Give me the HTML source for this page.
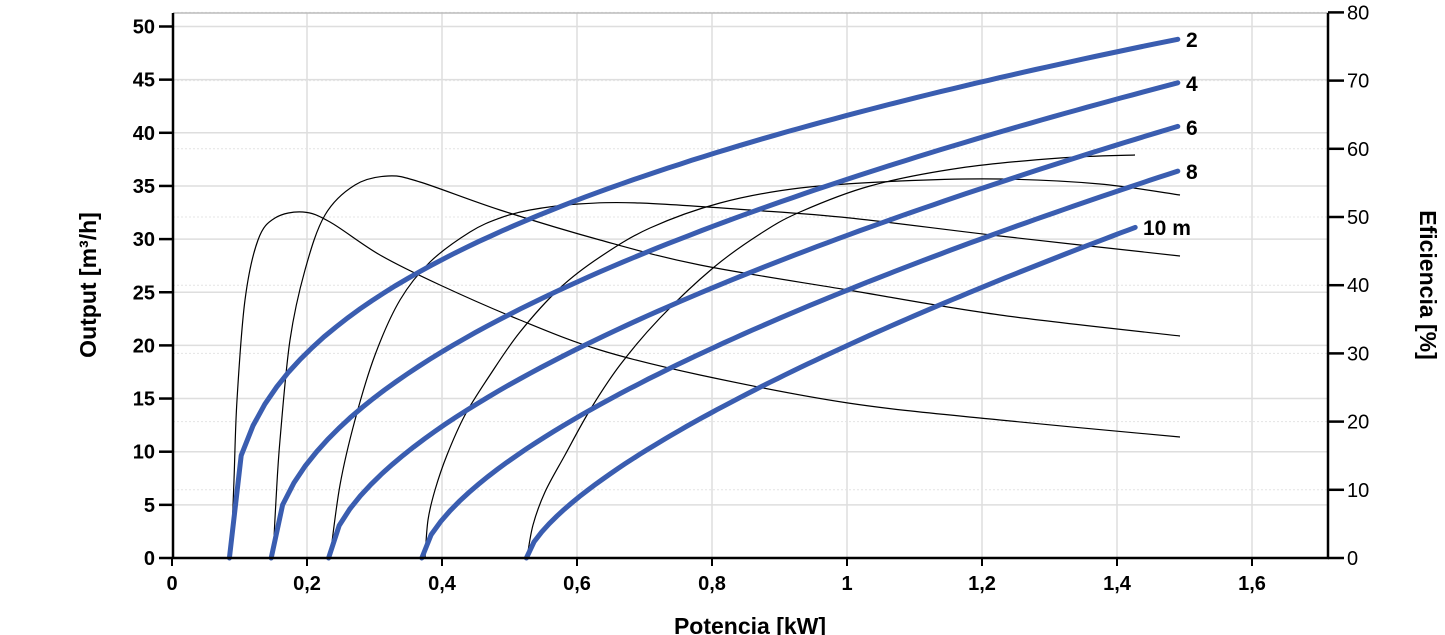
<!DOCTYPE html>
<html><head><meta charset="utf-8"><style>
html,body{margin:0;padding:0;background:#fff;}
svg{display:block;font-family:"Liberation Sans",Arial,sans-serif;}
</style></head><body>
<svg id="s" width="1445" height="635" viewBox="0 0 1445 635">
<g id="grid"></g>
<g id="curves"></g>
<g id="axes"></g>
</svg>
<script>
const NS="http://www.w3.org/2000/svg";
const X=p=>172+675*p, Y=q=>558-10.63*q, YE=e=>558-6.82*e;
function el(t,a,par,txt){const e=document.createElementNS(NS,t);for(const k in a)e.setAttribute(k,a[k]);if(txt!==undefined)e.textContent=txt;document.getElementById(par).appendChild(e);return e;}
for(let p=0.2;p<1.75;p+=0.2){el('line',{x1:X(p),x2:X(p),y1:13,y2:558,stroke:'#dedede','stroke-width':1.5},'grid');}
for(let q=5;q<=50;q+=5){el('line',{x1:173,x2:1328,y1:Y(q),y2:Y(q),stroke:'#dedede','stroke-width':1.5},'grid');}
for(let e=10;e<=80;e+=10){el('line',{x1:173,x2:1328,y1:YE(e),y2:YE(e),stroke:'#e4e4e4','stroke-width':1,'stroke-dasharray':'2,2'},'grid');}
el('line',{x1:173,x2:1328,y1:13,y2:13,stroke:'#bbb','stroke-width':1.5},'grid');
function cr(pts){let d='M'+pts[0][0]+','+pts[0][1];for(let i=0;i<pts.length-1;i++){const p0=pts[Math.max(0,i-1)],p1=pts[i],p2=pts[i+1],p3=pts[Math.min(pts.length-1,i+2)];d+=' C'+(p1[0]+(p2[0]-p0[0])/6)+','+(p1[1]+(p2[1]-p0[1])/6)+' '+(p2[0]-(p3[0]-p1[0])/6)+','+(p2[1]-(p3[1]-p1[1])/6)+' '+p2[0]+','+p2[1];}return d;}
const E=[
[[231,558],[234,480],[237,400],[245,300],[258,240],[275,218],[303,212],[330,222],[380,255],[440,285],[520,320],[600,350],[700,375],[848,403],[1000,420],[1180,437]],
[[273,558],[276,500],[280,440],[290,340],[305,270],[325,215],[355,185],[388,176],[420,182],[500,210],[600,240],[700,265],[848,290],[1000,315],[1180,336]],
[[330,558],[340,485],[355,420],[375,355],[400,300],[430,262],[470,232],[500,218],[530,210],[578,204],[640,203],[750,210],[850,218],[1000,236],[1180,256]],
[[425,558],[428,520],[435,490],[447,455],[465,415],[490,375],[520,332],[560,288],[600,257],[650,228],[720,203],[800,188],[900,181],[1000,179],[1100,184],[1180,195]],
[[527,558],[533,525],[545,492],[565,455],[590,410],[620,365],[660,318],[713,268],[760,234],[800,212],[870,186],[960,168],[1060,158],[1135,155]]];
E.forEach(p=>el('path',{d:cr(p),fill:'none',stroke:'#000','stroke-width':1.2},'curves'));
const C=[[0.085,1.49,48.8,0.37],[0.147,1.49,44.7,0.5],[0.232,1.49,40.6,0.59],[0.37,1.49,36.4,0.64],[0.525,1.427,31.1,0.69]];
C.forEach(([p0,p1,q1,b])=>{let pts=[];for(let i=0;i<=80;i++){const t=i/80,p=p0+(p1-p0)*t;const q=q1*Math.pow((p-p0)/(p1-p0),b);pts.push(X(p).toFixed(1)+','+Y(q).toFixed(1));}
el('polyline',{points:pts.join(' '),fill:'none',stroke:'#3a5db0','stroke-width':5,'stroke-linecap':'round'},'curves');});
[['2',39],['4',83],['6',127],['8',171]].forEach(([t,y])=>el('text',{x:1186,y:y+8,'font-size':21,'font-weight':'bold'},'curves',t));
el('text',{x:1143,y:235,'font-size':21,'font-weight':'bold'},'curves','10 m');
el('line',{x1:173,x2:173,y1:13,y2:559,stroke:'#000','stroke-width':2.5},'axes');
el('line',{x1:1328,x2:1328,y1:13,y2:559,stroke:'#000','stroke-width':2.5},'axes');
el('line',{x1:172,x2:1329,y1:558,y2:558,stroke:'#000','stroke-width':2.5},'axes');
for(let q=0;q<=50;q+=5){el('line',{x1:159,x2:173,y1:Y(q),y2:Y(q),stroke:'#000','stroke-width':2.5},'axes');el('text',{x:155,y:Y(q)+7,'font-size':20,'font-weight':'bold','text-anchor':'end'},'axes',q);}
for(let e=0;e<=80;e+=10){el('line',{x1:1328,x2:1344,y1:YE(e),y2:YE(e),stroke:'#000','stroke-width':2.5},'axes');el('text',{x:1347,y:YE(e)+7,'font-size':20},'axes',e);}
for(let i=0;i<=8;i++){const p=i*0.2;el('line',{x1:X(p),x2:X(p),y1:558,y2:566,stroke:'#000','stroke-width':2},'axes');el('text',{x:X(p),y:590,'font-size':20,'font-weight':'bold','text-anchor':'middle'},'axes',i==0?'0':(i==5?'1':p.toFixed(1).replace('.',',')));}
el('text',{x:750,y:634,'font-size':23,'font-weight':'bold','text-anchor':'middle'},'axes','Potencia [kW]');
el('text',{x:0,y:0,'font-size':23,'font-weight':'bold','text-anchor':'middle',transform:'translate(96,285) rotate(-90)'},'axes','Output [m³/h]');
el('text',{x:0,y:0,'font-size':23,'font-weight':'bold','text-anchor':'middle',transform:'translate(1420,285) rotate(90)'},'axes','Eficiencia [%]');
</script>
</body></html>
